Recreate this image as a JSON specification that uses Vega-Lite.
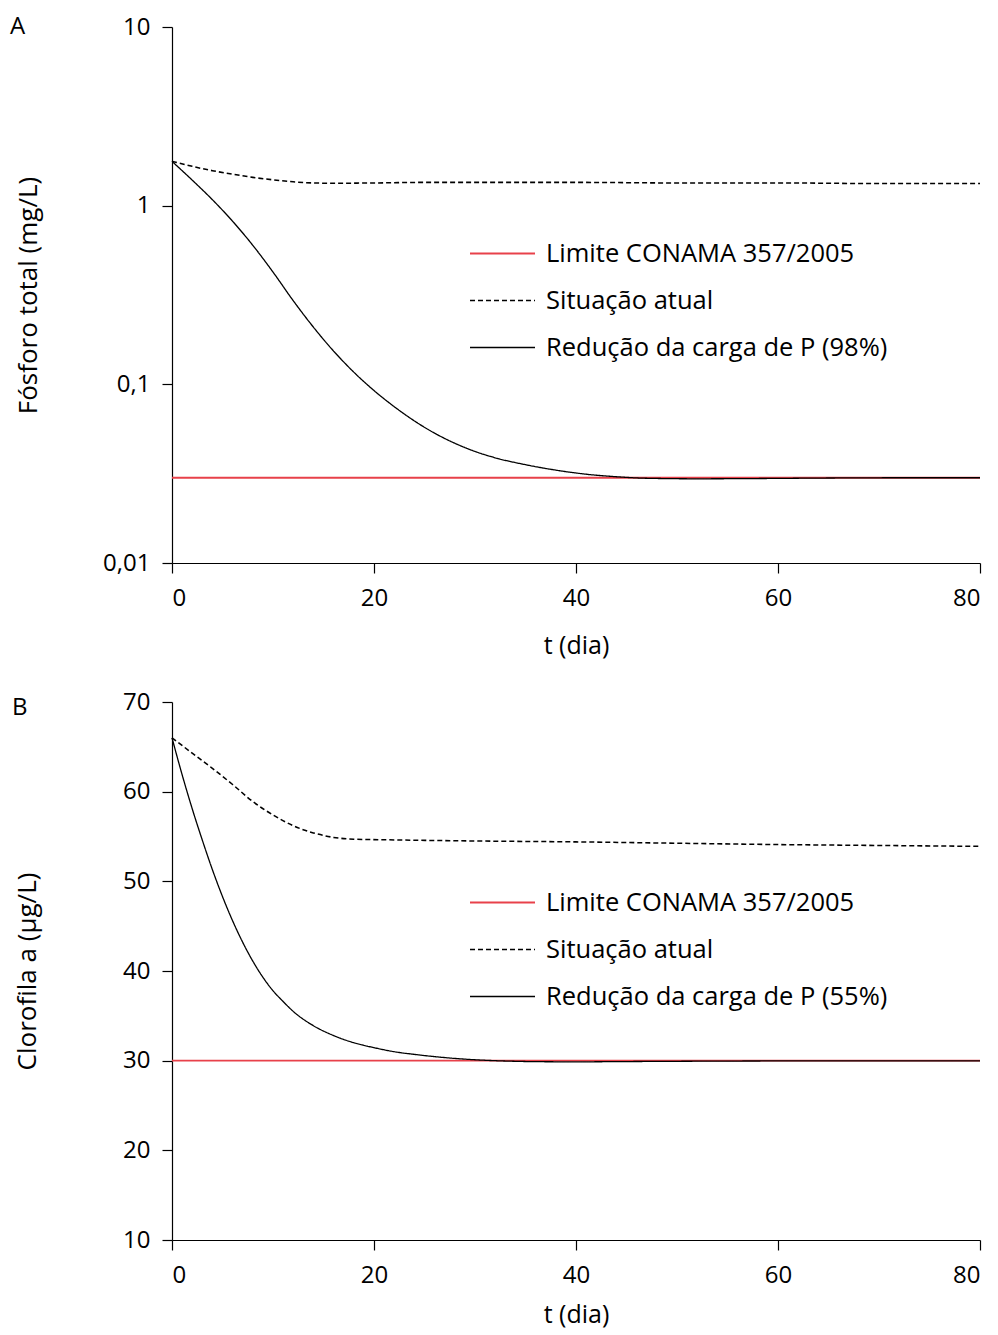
{
  "$schema": "https://vega.github.io/schema/vega-lite/v6.json",
  "background": "white",
  "padding": {"left": 10, "top": 15, "right": 10, "bottom": 6},
  "config": {
    "font": "Open Sans",
    "view": {"stroke": null},
    "axis": {
      "domainColor": "black", "tickColor": "black", "labelColor": "black", "titleColor": "black",
      "labelFontSize": 24, "titleFontSize": 26, "titleFontWeight": "normal",
      "tickSize": 10, "grid": false, "domainWidth": 1.2, "tickWidth": 1.2,
      "labelFont": "Open Sans", "titleFont": "Open Sans"
    },
    "axisX": {"labelPadding": 13, "titlePadding": 23, "titleFontSize": 25},
    "axisY": {"labelPadding": 12},
    "title": {"fontSize": 24, "fontWeight": "normal", "anchor": "start", "frame": "group", "color": "black", "font": "Open Sans"},
    "legend": {"title": null, "orient": "none", "symbolType": "stroke", "symbolSize": 4225, "symbolStrokeWidth": 1.3, "labelFontSize": 25.5, "labelOffset": 10, "rowPadding": 0, "labelColor": "black", "labelFont": "Open Sans", "padding": 0, "labelLimit": 600},
    "concat": {"spacing": 32}
  },
  "datasets": {
    "a": [
      {"t": 0, "v": 0.03, "s": "Limite CONAMA 357/2005"},
      {"t": 80, "v": 0.03, "s": "Limite CONAMA 357/2005"},
      {"t": 0, "v": 1.77, "s": "Situação atual"},
      {"t": 2, "v": 1.66, "s": "Situação atual"},
      {"t": 4, "v": 1.57, "s": "Situação atual"},
      {"t": 6, "v": 1.5, "s": "Situação atual"},
      {"t": 8, "v": 1.44, "s": "Situação atual"},
      {"t": 10, "v": 1.395, "s": "Situação atual"},
      {"t": 12, "v": 1.36, "s": "Situação atual"},
      {"t": 14, "v": 1.34, "s": "Situação atual"},
      {"t": 16, "v": 1.335, "s": "Situação atual"},
      {"t": 20, "v": 1.34, "s": "Situação atual"},
      {"t": 25, "v": 1.35, "s": "Situação atual"},
      {"t": 30, "v": 1.35, "s": "Situação atual"},
      {"t": 40, "v": 1.35, "s": "Situação atual"},
      {"t": 50, "v": 1.34, "s": "Situação atual"},
      {"t": 60, "v": 1.34, "s": "Situação atual"},
      {"t": 70, "v": 1.33, "s": "Situação atual"},
      {"t": 80, "v": 1.33, "s": "Situação atual"},
      {"t": 0, "v": 1.77, "s": "Redução da carga de P (98%)"},
      {"t": 2, "v": 1.39, "s": "Redução da carga de P (98%)"},
      {"t": 4, "v": 1.08, "s": "Redução da carga de P (98%)"},
      {"t": 6, "v": 0.818, "s": "Redução da carga de P (98%)"},
      {"t": 8, "v": 0.6, "s": "Redução da carga de P (98%)"},
      {"t": 10, "v": 0.425, "s": "Redução da carga de P (98%)"},
      {"t": 12, "v": 0.294, "s": "Redução da carga de P (98%)"},
      {"t": 14, "v": 0.209, "s": "Redução da carga de P (98%)"},
      {"t": 16, "v": 0.1535, "s": "Redução da carga de P (98%)"},
      {"t": 18, "v": 0.117, "s": "Redução da carga de P (98%)"},
      {"t": 20, "v": 0.0923, "s": "Redução da carga de P (98%)"},
      {"t": 22, "v": 0.075, "s": "Redução da carga de P (98%)"},
      {"t": 24, "v": 0.0624, "s": "Redução da carga de P (98%)"},
      {"t": 26, "v": 0.0533, "s": "Redução da carga de P (98%)"},
      {"t": 28, "v": 0.0468, "s": "Redução da carga de P (98%)"},
      {"t": 30, "v": 0.0421, "s": "Redução da carga de P (98%)"},
      {"t": 32, "v": 0.0388, "s": "Redução da carga de P (98%)"},
      {"t": 35, "v": 0.0355, "s": "Redução da carga de P (98%)"},
      {"t": 38, "v": 0.0331, "s": "Redução da carga de P (98%)"},
      {"t": 41, "v": 0.0314, "s": "Redução da carga de P (98%)"},
      {"t": 44, "v": 0.0304, "s": "Redução da carga de P (98%)"},
      {"t": 47, "v": 0.0298, "s": "Redução da carga de P (98%)"},
      {"t": 52, "v": 0.0296, "s": "Redução da carga de P (98%)"},
      {"t": 58, "v": 0.0297, "s": "Redução da carga de P (98%)"},
      {"t": 65, "v": 0.0299, "s": "Redução da carga de P (98%)"},
      {"t": 72, "v": 0.03, "s": "Redução da carga de P (98%)"},
      {"t": 80, "v": 0.03, "s": "Redução da carga de P (98%)"}
    ],
    "b": [
      {"t": 0, "v": 30, "s": "Limite CONAMA 357/2005"},
      {"t": 80, "v": 30, "s": "Limite CONAMA 357/2005"},
      {"t": 0, "v": 66, "s": "Situação atual"},
      {"t": 2, "v": 64.3, "s": "Situação atual"},
      {"t": 4, "v": 62.6, "s": "Situação atual"},
      {"t": 6, "v": 60.8, "s": "Situação atual"},
      {"t": 8, "v": 58.9, "s": "Situação atual"},
      {"t": 10, "v": 57.4, "s": "Situação atual"},
      {"t": 12, "v": 56.2, "s": "Situação atual"},
      {"t": 14, "v": 55.4, "s": "Situação atual"},
      {"t": 16, "v": 54.9, "s": "Situação atual"},
      {"t": 18, "v": 54.7, "s": "Situação atual"},
      {"t": 22, "v": 54.62, "s": "Situação atual"},
      {"t": 30, "v": 54.5, "s": "Situação atual"},
      {"t": 40, "v": 54.4, "s": "Situação atual"},
      {"t": 50, "v": 54.25, "s": "Situação atual"},
      {"t": 60, "v": 54.1, "s": "Situação atual"},
      {"t": 70, "v": 54.0, "s": "Situação atual"},
      {"t": 80, "v": 53.9, "s": "Situação atual"},
      {"t": 0, "v": 66, "s": "Redução da carga de P (55%)"},
      {"t": 1, "v": 61.9, "s": "Redução da carga de P (55%)"},
      {"t": 2, "v": 58.1, "s": "Redução da carga de P (55%)"},
      {"t": 3, "v": 54.6, "s": "Redução da carga de P (55%)"},
      {"t": 4, "v": 51.3, "s": "Redução da carga de P (55%)"},
      {"t": 5, "v": 48.3, "s": "Redução da carga de P (55%)"},
      {"t": 6, "v": 45.6, "s": "Redução da carga de P (55%)"},
      {"t": 7, "v": 43.2, "s": "Redução da carga de P (55%)"},
      {"t": 8, "v": 41.1, "s": "Redução da carga de P (55%)"},
      {"t": 9, "v": 39.3, "s": "Redução da carga de P (55%)"},
      {"t": 10, "v": 37.8, "s": "Redução da carga de P (55%)"},
      {"t": 11, "v": 36.6, "s": "Redução da carga de P (55%)"},
      {"t": 12, "v": 35.5, "s": "Redução da carga de P (55%)"},
      {"t": 14, "v": 33.9, "s": "Redução da carga de P (55%)"},
      {"t": 16, "v": 32.8, "s": "Redução da carga de P (55%)"},
      {"t": 18, "v": 32.0, "s": "Redução da carga de P (55%)"},
      {"t": 20, "v": 31.45, "s": "Redução da carga de P (55%)"},
      {"t": 22, "v": 31.0, "s": "Redução da carga de P (55%)"},
      {"t": 24, "v": 30.7, "s": "Redução da carga de P (55%)"},
      {"t": 26, "v": 30.45, "s": "Redução da carga de P (55%)"},
      {"t": 28, "v": 30.25, "s": "Redução da carga de P (55%)"},
      {"t": 30, "v": 30.1, "s": "Redução da carga de P (55%)"},
      {"t": 33, "v": 29.96, "s": "Redução da carga de P (55%)"},
      {"t": 36, "v": 29.89, "s": "Redução da carga de P (55%)"},
      {"t": 40, "v": 29.87, "s": "Redução da carga de P (55%)"},
      {"t": 45, "v": 29.9, "s": "Redução da carga de P (55%)"},
      {"t": 50, "v": 29.93, "s": "Redução da carga de P (55%)"},
      {"t": 60, "v": 29.97, "s": "Redução da carga de P (55%)"},
      {"t": 70, "v": 29.98, "s": "Redução da carga de P (55%)"},
      {"t": 80, "v": 29.98, "s": "Redução da carga de P (55%)"}
    ]
  },
  "vconcat": [
    {
      "width": 808,
      "height": 536,
      "title": {"text": "A", "dx": -162, "dy": 28},
      "data": {"name": "a"},
      "mark": {"type": "line", "interpolate": "monotone"},
      "encoding": {
        "x": {"field": "t", "type": "quantitative", "scale": {"domain": [0, 80], "nice": false},
              "axis": {"values": [0, 20, 40, 60, 80], "title": "t (dia)"}},
        "y": {"field": "v", "type": "quantitative", "scale": {"type": "log", "domain": [0.01, 10], "nice": false},
              "axis": {"values": [0.01, 0.1, 1, 10], "labelExpr": "replace('' + datum.value, '.', ',')", "title": "Fósforo total (mg/L)", "titlePadding": 61}},
        "color": {"field": "s", "type": "nominal",
                  "scale": {"domain": ["Limite CONAMA 357/2005", "Situação atual", "Redução da carga de P (98%)"], "range": ["#e8414a", "black", "black"]},
                  "legend": {"legendX": 297, "legendY": 193}},
        "strokeDash": {"field": "s", "type": "nominal",
                  "scale": {"domain": ["Limite CONAMA 357/2005", "Situação atual", "Redução da carga de P (98%)"], "range": [[1, 0], [5, 3], [1, 0]]},
                  "legend": {"legendX": 297, "legendY": 193}},
        "strokeWidth": {"field": "s", "type": "nominal",
                  "scale": {"domain": ["Limite CONAMA 357/2005", "Situação atual", "Redução da carga de P (98%)"], "range": [1.8, 1.3, 1.3]},
                  "legend": null}
      }
    },
    {
      "width": 808,
      "height": 538,
      "title": {"text": "B", "dx": -160, "dy": 34},
      "data": {"name": "b"},
      "mark": {"type": "line", "interpolate": "monotone"},
      "encoding": {
        "x": {"field": "t", "type": "quantitative", "scale": {"domain": [0, 80], "nice": false},
              "axis": {"values": [0, 20, 40, 60, 80], "title": "t (dia)", "titlePadding": 15}},
        "y": {"field": "v", "type": "quantitative", "scale": {"domain": [10, 70], "nice": false},
              "axis": {"values": [10, 20, 30, 40, 50, 60, 70], "title": "Clorofila a (µg/L)", "titlePadding": 82}},
        "color": {"field": "s", "type": "nominal",
                  "scale": {"domain": ["Limite CONAMA 357/2005", "Situação atual", "Redução da carga de P (55%)"], "range": ["#e8414a", "black", "black"]},
                  "legend": {"legendX": 297, "legendY": 167}},
        "strokeDash": {"field": "s", "type": "nominal",
                  "scale": {"domain": ["Limite CONAMA 357/2005", "Situação atual", "Redução da carga de P (55%)"], "range": [[1, 0], [5, 3], [1, 0]]},
                  "legend": {"legendX": 297, "legendY": 167}},
        "strokeWidth": {"field": "s", "type": "nominal",
                  "scale": {"domain": ["Limite CONAMA 357/2005", "Situação atual", "Redução da carga de P (55%)"], "range": [1.8, 1.3, 1.3]},
                  "legend": null}
      }
    }
  ],
  "resolve": {"scale": {"color": "independent", "strokeDash": "independent", "strokeWidth": "independent"}}
}
